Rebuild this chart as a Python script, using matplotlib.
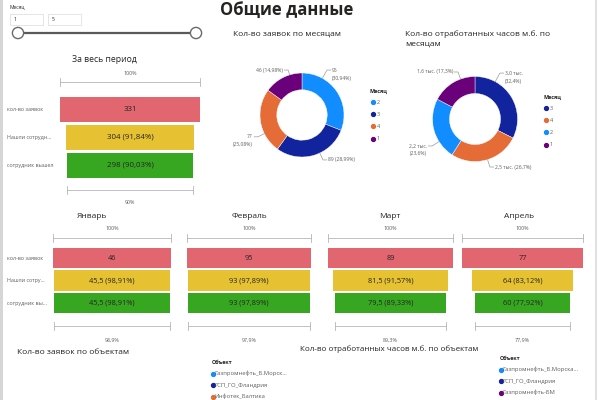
import numpy as np
import matplotlib.pyplot as plt

plt.rcParams['font.family'] = ['Open Sans', 'DejaVu Sans']

W, H = 600, 400

# ---- data ----
stage_labels = ["кол-во заявок", "Нашли сотрудн...", "сотрудник вышел"]
total_values = [331, 304, 298]

months = ["Январь", "Февраль", "Март", "Апрель"]
month_stage_labels = ["кол-во заявок", "Нашли сотру...", "сотрудник вы..."]
jan_values = [46, 45.5, 45.5]
feb_values = [95, 93, 93]
mar_values = [89, 81.5, 79.5]
apr_values = [77, 64, 60]

req_months = ["2", "3", "4", "1"]
req_values = [95, 89, 77, 46]
hours_months = ["3", "4", "2", "1"]
hours_values = [3000, 2472, 2185, 1602]

objects_req = ["Газпромнефть_Б.Морск...", "ГСП_ГО_Фландрия", "Инфотек_Балтика"]
objects_hours = ["Газпромнефть_Б.Морска...", "ГСП_ГО_Фландрия", "Газпромнефть-БМ"]

# ---- styles ----
stage_colors = ["#E1666F", "#E6C233", "#37A722"]
month_colors = {"1": "#6B007B", "2": "#118DFF", "3": "#12239E", "4": "#E66C37"}
object_colors_req = ["#118DFF", "#12239E", "#E66C37"]
object_colors_hours = ["#118DFF", "#12239E", "#6B007B"]
txt_dark = "#252423"
txt_gray = "#605E5C"
line_gray = "#9A9A9A"
small_fs = 3.9


def box(x0, y0, x1, y1):
    # pixel rect (top-left origin) -> figure fraction
    return [x0 / W, 1 - y1 / H, (x1 - x0) / W, (y1 - y0) / H]


def num(v):
    return f"{v:g}".replace(".", ",")


def pct(v, d):
    s = f"{v:.{d}f}".replace(".", ",")
    if d == 1 and s.endswith(",0"):
        s = s[:-2]
    return s + "%"


fig = plt.figure(figsize=(6, 4), dpi=100)
fig.patch.set_facecolor("white")

bg = fig.add_axes([0, 0, 1, 1])
bg.set_xlim(0, W)
bg.set_ylim(H, 0)
bg.axis("off")

# page borders
bg.add_patch(plt.Rectangle((0, 0), 3, H, color="#D6D6D6", lw=0))
bg.plot([596, 596], [0, H], color="#DADADA", lw=1.2)

# title
bg.text(287, 1, "Общие данные", ha="center", va="top", fontsize=12,
        fontweight="bold", color="#252423")

# slicer
bg.text(10, 7, "Месяц", fontsize=3.6, va="center", color=txt_dark)
for bx, val in [(10, "1"), (48, "5")]:
    bg.add_patch(plt.Rectangle((bx, 14), 33, 11, fill=False, ec="#E0E0E0", lw=0.6))
    bg.text(bx + 4, 19.5, val, fontsize=3.6, va="center", color=txt_dark)
bg.plot([18, 196], [33, 33], color="#5A5A5A", lw=1.6, zorder=2)
for cx in [18, 196]:
    bg.add_patch(plt.Circle((cx, 33), 5.6, fc="white", ec="#6A6A6A", lw=1.0, zorder=3))


def draw_funnel(x0, x1, yc0, unit, values, top_b, bot_b, fs, lbl_dy_top, lbl_dy_bot):
    lo, hi = -2.0, 4.2
    ax = fig.add_axes(box(x0, yc0 + lo * unit, x1, yc0 + hi * unit))
    vmax = values[0]
    ax.set_xlim(0, vmax)
    ax.set_ylim(hi, lo)
    ax.axis("off")
    ypos = np.arange(len(values))
    lefts = [(vmax - v) / 2 for v in values]
    ax.barh(ypos, values, left=lefts, height=0.89, color=stage_colors)
    for i, v in enumerate(values):
        s = num(v) if i == 0 else f"{num(v)} ({pct(v / vmax * 100, 2)})"
        ax.text(vmax / 2, i, s, ha="center", va="center", fontsize=fs, color=txt_dark)
    tick = 4 / unit
    # top bracket
    ax.plot([0, vmax], [top_b, top_b], color="#B5B5B5", lw=0.6, clip_on=False)
    for xx in [0, vmax]:
        ax.plot([xx, xx], [top_b - tick, top_b + tick], color="#B5B5B5", lw=0.6, clip_on=False)
    ax.text(vmax / 2, top_b - lbl_dy_top / unit, "100%", ha="center", va="center",
            fontsize=small_fs, color=txt_gray)
    # bottom bracket
    last = values[-1]
    l0 = (vmax - last) / 2
    ax.plot([l0, l0 + last], [bot_b, bot_b], color="#B5B5B5", lw=0.6, clip_on=False)
    for xx in [l0, l0 + last]:
        ax.plot([xx, xx], [bot_b - tick, bot_b + tick], color="#B5B5B5", lw=0.6, clip_on=False)
    ax.text(vmax / 2, bot_b + lbl_dy_bot / unit, pct(last / vmax * 100, 1), ha="center",
            va="center", fontsize=small_fs, color=txt_gray)
    return ax


# overall funnel
bg.text(104, 60, "За весь период", ha="center", va="center", fontsize=6.2, color=txt_dark)
draw_funnel(60, 200, 109.5, 28, total_values, -0.98, 2.875, 5.7, 9, 13)
for i, lab in enumerate(stage_labels):
    bg.text(7, 109.5 + 28 * i, lab, fontsize=small_fs, va="center", color=txt_gray)

# monthly funnels
month_sets = [jan_values, feb_values, mar_values, apr_values]
month_x = [(53, 171), (187, 311), (328, 453), (462, 583)]
month_title_x = [92, 249, 390, 519]
for name, vals, (xa, xb), tx in zip(months, month_sets, month_x, month_title_x):
    bg.text(tx, 217, name, ha="center", va="center", fontsize=6.0, color=txt_dark)
    draw_funnel(xa, xb, 258, 22.5, vals, -0.89, 3.02, 5.3, 9, 14)
for i, lab in enumerate(month_stage_labels):
    bg.text(7, 258 + 22.5 * i, lab, fontsize=small_fs, va="center", color=txt_gray)


def draw_donut(cx, cy, r, names, values, label_fmt, label_pos, title_lines, title_xy,
               legend_xy):
    ax = fig.add_axes(box(cx - r, cy - r, cx + r, cy + r))
    cols = [month_colors[n] for n in names]
    wedges, _ = ax.pie(values, colors=cols, startangle=90, counterclock=False,
                       radius=1.0, wedgeprops=dict(width=0.4, edgecolor="white", linewidth=0.3))
    ax.set_xlim(-1, 1)
    ax.set_ylim(-1, 1)
    ax.axis("off")
    total = sum(values)
    line_h = 8 / r
    for w, v, (lx, ly, ha, two) in zip(wedges, values, label_pos):
        s = 1 if ha == "left" else -1
        ex, ey = lx - s * 0.12, ly
        ang = np.degrees(np.arctan2(ey, ex))
        # clamp attachment angle into the wedge
        a1, a2 = sorted([w.theta1, w.theta2])
        ang_c = ang
        for k in [-360, 0, 360]:
            if a1 <= ang + k <= a2:
                ang_c = ang + k
                break
        ox, oy = np.cos(np.radians(ang_c)), np.sin(np.radians(ang_c))
        ax.plot([ox, ex, lx - s * 0.03], [oy, ey, ey], color=line_gray, lw=0.5,
                clip_on=False)
        first, second = label_fmt(v), f"({pct(v / total * 100, 2 if total < 1000 else 1)})"
        if two:
            ax.text(lx, ly, first, ha=ha, va="center", fontsize=3.6, color=txt_gray,
                    clip_on=False)
            ax.text(lx, ly - line_h, second, ha=ha, va="center", fontsize=3.6,
                    color=txt_gray, clip_on=False)
        else:
            ax.text(lx, ly, f"{first} {second}", ha=ha, va="center", fontsize=3.6,
                    color=txt_gray, clip_on=False)
    tx, ty = title_xy
    for i, t in enumerate(title_lines):
        bg.text(tx, ty + 10 * i, t, fontsize=6.0, va="center", color=txt_dark)
    lx0, ly0 = legend_xy
    bg.text(lx0, ly0, "Месяц", fontsize=3.9, fontweight="bold", va="center", color=txt_dark)
    for i, (n, c) in enumerate(zip(names, cols)):
        yy = ly0 + 11 + 12.2 * i
        bg.plot(lx0 + 2.5, yy, "o", ms=2.8, color=c)
        bg.text(lx0 + 6.5, yy, n, fontsize=3.9, va="center", color=txt_gray)


draw_donut(302, 115, 42, req_months, req_values, lambda v: f"{v}",
           [(0.714, 1.07, "left", True), (0.62, -1.07, "left", False),
            (-1.17, -0.52, "right", True), (-0.45, 1.07, "right", False)],
           ["Кол-во заявок по месяцам"], (233, 34), (370, 91))

draw_donut(475, 119, 42.5, hours_months, hours_values,
           lambda v: f"{v / 1000:.1f}".replace(".", ",") + " тыс.",
           [(0.706, 1.08, "left", True), (0.47, -1.13, "left", False),
            (-1.13, -0.635, "right", True), (-0.52, 1.106, "right", False)],
           ["Кол-во отработанных часов м.б. по", "месяцам"], (405, 34), (543, 97))

# bottom visuals
bg.text(17, 353, "Кол-во заявок по объектам", fontsize=6.0, va="center", color=txt_dark)
bg.text(300, 349, "Кол-во отработанных часов м.б. по объектам", fontsize=5.8,
        va="center", color=txt_dark)


def object_legend(x, y, names, cols):
    bg.text(x, y, "Объект", fontsize=3.9, fontweight="bold", va="center", color=txt_dark)
    for i, (n, c) in enumerate(zip(names, cols)):
        yy = y + 10.5 + 11.5 * i
        bg.plot(x + 0.5, yy, "o", ms=2.8, color=c, clip_on=False)
        bg.text(x + 2.8, yy, n, fontsize=4.2, va="center", color=txt_gray)


object_legend(212, 363, objects_req, object_colors_req)
object_legend(500, 359, objects_hours, object_colors_hours)

fig.savefig("out.png", dpi=100)
